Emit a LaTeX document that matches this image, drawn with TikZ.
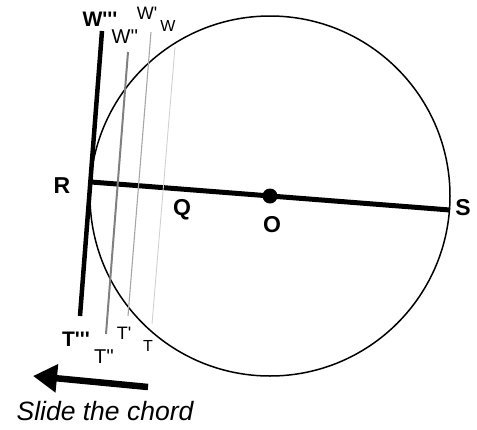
\documentclass[tikz,border=0pt]{standalone}
\usepackage{fontspec}
\setmainfont{Liberation Sans}[Ligatures=TeXOff]
\usetikzlibrary{arrows.meta}
\tikzset{
  lbl/.style={inner sep=0pt, text=black},
  ptb/.style={lbl, font=\bfseries\fontsize{23}{25}\selectfont},
  bigb/.style={lbl, font=\bfseries\fontsize{21}{23}\selectfont},
  lblA/.style={lbl, font=\fontsize{20}{22}\selectfont},
  lblB/.style={lbl, font=\fontsize{18}{20}\selectfont},
  lblC/.style={lbl, font=\fontsize{16}{18}\selectfont},
  tangent/.style={line width=4.5pt, black},
  chordA/.style={line width=2pt, black!50},
  chordB/.style={line width=1.1pt, black!35},
  chordC/.style={line width=0.9pt, black!18},
}
\begin{document}
\begin{tikzpicture}[x=1pt,y=-1pt]
\useasboundingbox (0,0) rectangle (477,429);
% circle
\coordinate (O) at (270,196);
\draw[line width=1.5pt] (O) circle (180);
% diameter
\coordinate (R) at (91,182);
\coordinate (S) at (450,210);
\draw[line width=5pt] (R) -- (S);
\fill (O) circle (7.5);
% tangent and parallel chords
\coordinate (W3) at (102,31);  \coordinate (T3) at (80,316);
\coordinate (W2) at (128,52);  \coordinate (T2) at (106,334);
\coordinate (W1) at (151,32);  \coordinate (T1) at (128,316);
\coordinate (W0) at (175,47);  \coordinate (T0) at (152,324);
\draw[chordC] (W0) -- (T0);
\draw[chordB] (W1) -- (T1);
\draw[chordA] (W2) -- (T2);
\draw[tangent] (W3) -- (T3);
% labels
\node[ptb] (lR) at (62,186) {R};
\node[ptb] (lQ) at (182,210) {Q};
\node[ptb] (lO) at (272,225) {O};
\node[ptb] (lS) at (463,208) {S};
\node[bigb] (lW3) at (100,19) {W'''};
\node[lblA] (lW2) at (125,37) {W''};
\node[lblB] (lW1) at (147,13) {W'};
\node[lblC] (lW0) at (168,26) {W};
\node[bigb] (lT3) at (76,339) {T'''};
\node[lblA] (lT2) at (104,357) {T''};
\node[lblB] (lT1) at (124,333) {T'};
\node[lblC] (lT0) at (148,346) {T};
% arrow and caption
\coordinate (AT) at (148,387);
\coordinate (AH) at (33,376);
\draw[line width=6.5pt, -{Triangle[length=24pt,width=27pt]}] (AT) -- (AH);
\node[lbl, font=\itshape\fontsize{26.5}{29}\selectfont] (cap) at (105,411) {Slide the chord};
\end{tikzpicture}
\end{document}
